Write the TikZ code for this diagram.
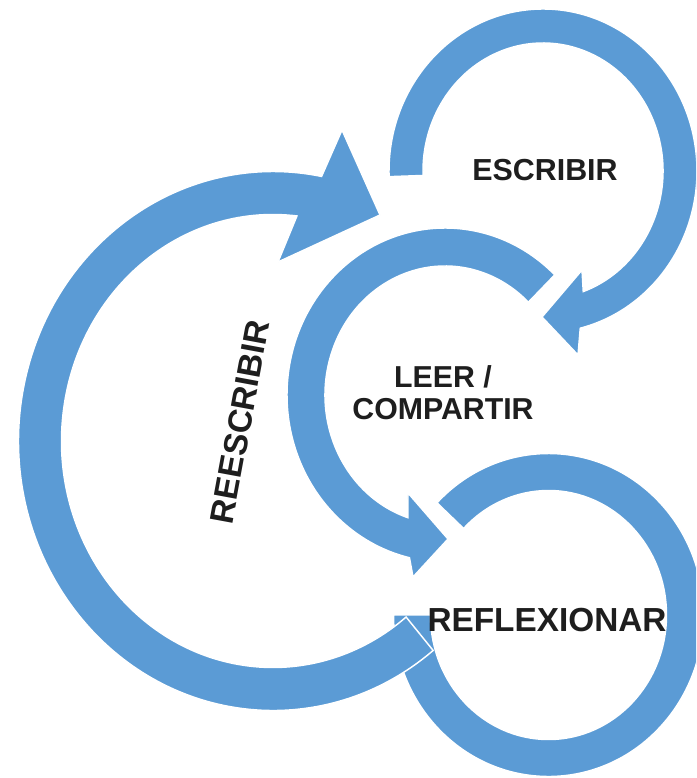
\documentclass[tikz,border=0pt]{standalone}
\usepackage{fontspec}
\setmainfont{Liberation Sans}
\usetikzlibrary{calc}
\definecolor{ringblue}{HTML}{5B9BD5}
\definecolor{txtgray}{HTML}{1E1E1E}
\begin{document}
\begin{tikzpicture}[x=0.75pt,y=-0.75pt,
  ring/.style={fill=ringblue, draw=white, line width=1.1pt, line join=miter},
  lbl/.style={text=txtgray, inner sep=0pt, align=center}]
\useasboundingbox (0,0) rectangle (696,778);
\clip (0,0) rectangle (696,778);
\fill[white] (0,0) rectangle (696,778);
\coordinate (c1) at (543,171);
\coordinate (c2) at (445,395);
\coordinate (c3) at (273,441);
\coordinate (c4) at (548.5,615);
% ring 4 : REFLEXIONAR
\path[ring] ($(c4)+(224:155 and 161.5)$) arc[start angle=224, end angle=540, x radius=155, y radius=161.5]
  -- ($(c4)+(540:118 and 124.5)$) arc[start angle=540, end angle=224, x radius=118, y radius=124.5] -- cycle;
% ring 3 : REESCRIBIR
\path[ring] ($(c3)+(51:254.5 and 269.5)$) arc[start angle=51, end angle=281, x radius=254.5, y radius=269.5]
  -- (342,130) -- (380,215) -- (278,262)
  -- ($(c3)+(276.5:211.5 and 226.5)$) arc[start angle=276.5, end angle=51, x radius=211.5, y radius=226.5] -- cycle;
% ring 1 : ESCRIBIR
\path[ring] ($(c1)+(178:154 and 162)$) arc[start angle=178, end angle=436, x radius=154, y radius=162]
  -- (578,355) -- (542,317) -- (582,270)
  -- ($(c1)+(430.4:120 and 128)$) arc[start angle=430.4, end angle=178, x radius=120, y radius=128] -- cycle;
% ring 2 : LEER / COMPARTIR
\path[ring] ($(c2)+(314:158 and 167)$) arc[start angle=314, end angle=103, x radius=158, y radius=167]
  -- (413,577) -- (448,539) -- (408,493)
  -- ($(c2)+(108:120 and 129)$) arc[start angle=108, end angle=314, x radius=120, y radius=129] -- cycle;
% labels
\node[lbl, font=\bfseries\fontsize{22.8}{24}\selectfont] (escribir) at (545,170) {ESCRIBIR};
\node[lbl, font=\bfseries\fontsize{22.7}{24}\selectfont] (leer) at (443,393) {LEER /\\COMPARTIR};
\node[lbl, font=\bfseries\fontsize{25}{26}\selectfont] (reflex) at (547,620) {REFLEXIONAR};
\node[lbl, font=\bfseries\fontsize{25}{26}\selectfont, rotate=79.5] (reesc) at (240,422) {REESCRIBIR};
\end{tikzpicture}
\end{document}
